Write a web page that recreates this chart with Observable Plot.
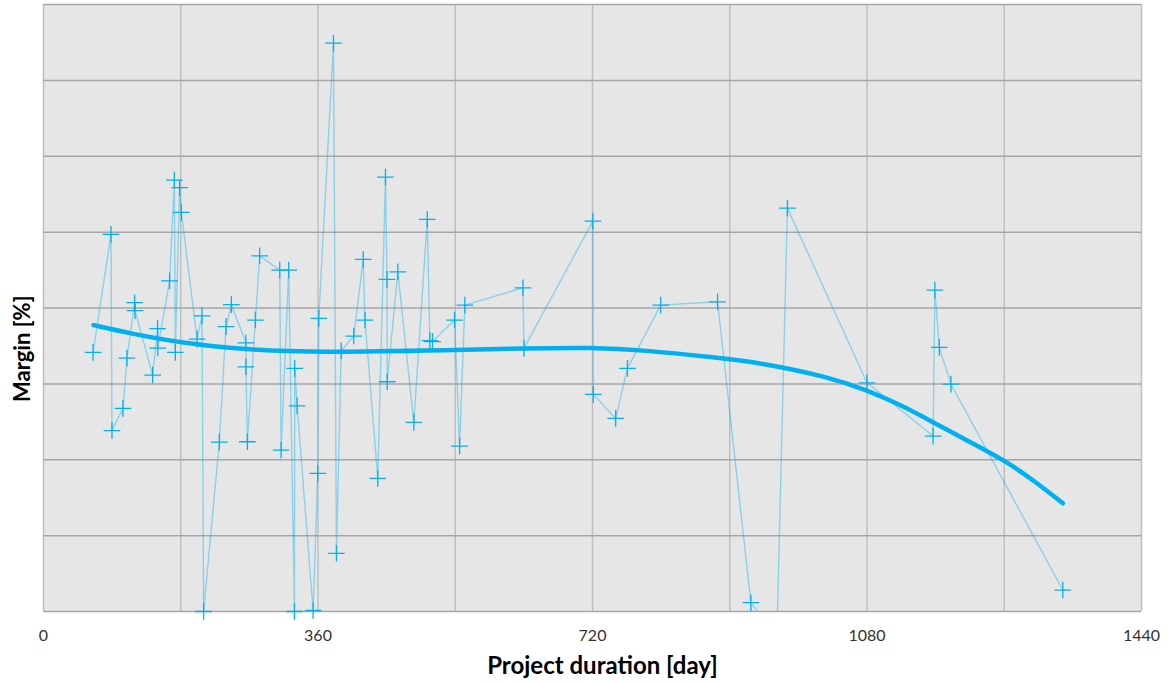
<!DOCTYPE html>
<html><head><meta charset="utf-8">
<script src="https://cdn.jsdelivr.net/npm/d3@7"></script>
<script src="https://cdn.jsdelivr.net/npm/@observablehq/plot@0.6"></script>
<style>
html,body{margin:0;padding:0;background:#fff;}
</style></head><body><div id="chart"></div>
<script>
// Project duration [day] for each project (in connection order)
const durations = [65, 88.5, 89.8, 104.2, 109.5, 119.5, 120.1, 143.1, 149.6, 149.9, 165.4, 171.6, 172.9, 178.5, 180.8, 201.4, 207.9, 210, 230.6, 239.4, 246.4, 265.4, 265.5, 267.4, 277.9, 283.5, 309.8, 311.6, 321.6, 329.1, 329.5, 332.6, 353.6, 359.7, 361, 380.3, 384.2, 390.4, 406.9, 419.3, 421.6, 438.4, 448.5, 450.5, 450.8, 464.7, 485.7, 503.3, 506.7, 510.2, 539.1, 545.7, 552.6, 628.8, 630.1, 720.5, 721, 750.4, 765.8, 809.5, 884, 927.7, 961.8, 975.6, 1080, 1166.7, 1169, 1174.8, 1190.1, 1336.8];
// Margin (grid units, axis unlabelled)
const margins = [3.415, 4.97, 2.385, 2.677, 3.34, 4.07, 3.966, 3.116, 3.729, 3.472, 4.358, 5.685, 3.415, 5.586, 5.26, 3.59, 3.897, 0, 2.233, 3.755, 4.045, 3.541, 3.225, 2.237, 3.841, 4.688, 4.499, 2.128, 4.499, 0, 3.204, 2.711, 0.013, 1.821, 3.863, 7.49, 0.767, 3.436, 3.63, 4.64, 3.841, 1.755, 5.725, 4.377, 3.028, 4.477, 2.493, 5.167, 3.57, 3.557, 3.841, 2.18, 4.038, 4.266, 3.468, 5.145, 2.862, 2.545, 3.204, 4.038, 4.082, 0.116, -0.349, 5.316, 3.014, 2.312, 4.236, 3.481, 2.997, 0.283];
// Trend line
const trendDays = [65.6, 113.8, 179.4, 271.3, 360.6, 540.4, 630.1, 720.4, 787.6, 879.5, 940.8, 1028.4, 1080, 1124.6, 1169.2, 1212.1, 1261, 1299.5, 1336.8];
const trendMargins = [3.775, 3.665, 3.541, 3.445, 3.415, 3.445, 3.468, 3.481, 3.445, 3.349, 3.278, 3.094, 2.918, 2.721, 2.48, 2.25, 1.99, 1.72, 1.426];
// Axis ticks
const xLabelTicks = [0, 360, 720, 1080, 1440];
const xGridTicks = [0, 180, 360, 540, 720, 900, 1080, 1260, 1440];
const yGridTicks = [0, 1, 2, 3, 4, 5, 6, 7, 8];

const points = durations.map((d, i) => ({day: d, margin: margins[i]}));
const trend = trendDays.map((d, i) => ({day: d, margin: trendMargins[i]}));

const plusSymbol = {draw(ctx) { const r = 8.3; ctx.moveTo(-r, 0); ctx.lineTo(r, 0); ctx.moveTo(0, -r); ctx.lineTo(0, r); }};

const chart = Plot.plot({
  width: 1167, height: 684,
  marginLeft: 43, marginRight: 26, marginTop: 4, marginBottom: 73,
  style: {fontFamily: "Lato, 'Open Sans', sans-serif", background: "#fff"},
  x: {domain: [0, 1440]},
  y: {domain: [0, 8], axis: null},
  marks: [
    Plot.frame({fill: "#E6E6E6", stroke: null}),
    Plot.ruleX(xGridTicks, {stroke: "#BFBFBF", strokeWidth: 1.5}),
    Plot.ruleY(yGridTicks, {stroke: "#A6A6A6", strokeWidth: 1.5}),
    Plot.axisX({ticks: xLabelTicks, tickFormat: d => String(d), tickSize: 0, tickPadding: 18, fontSize: 16, label: null, color: "#333"}),
    Plot.line(points, {x: "day", y: "margin", stroke: "#00B0F0", strokeOpacity: 0.4, strokeWidth: 1.4, clip: true}),
    Plot.line(trend, {x: "day", y: "margin", stroke: "#00B0F0", strokeWidth: 4.5, curve: "basis"}),
    Plot.dot(points, {x: "day", y: "margin", symbol: plusSymbol, stroke: "#00B0F0", strokeWidth: 1.3, fill: "none", filter: d => d.margin >= 0}),
    Plot.text(["Project duration [day]"], {frameAnchor: "bottom", dy: 62, dx: 10, fontSize: 24, fontWeight: "bold", fill: "#000"}),
    Plot.text(["Margin [%]"], {frameAnchor: "left", rotate: -90, dx: -21, dy: 94, fontSize: 22, fontWeight: "bold", fill: "#000"})
  ]
});
document.getElementById("chart").appendChild(chart);
</script>
</body></html>
